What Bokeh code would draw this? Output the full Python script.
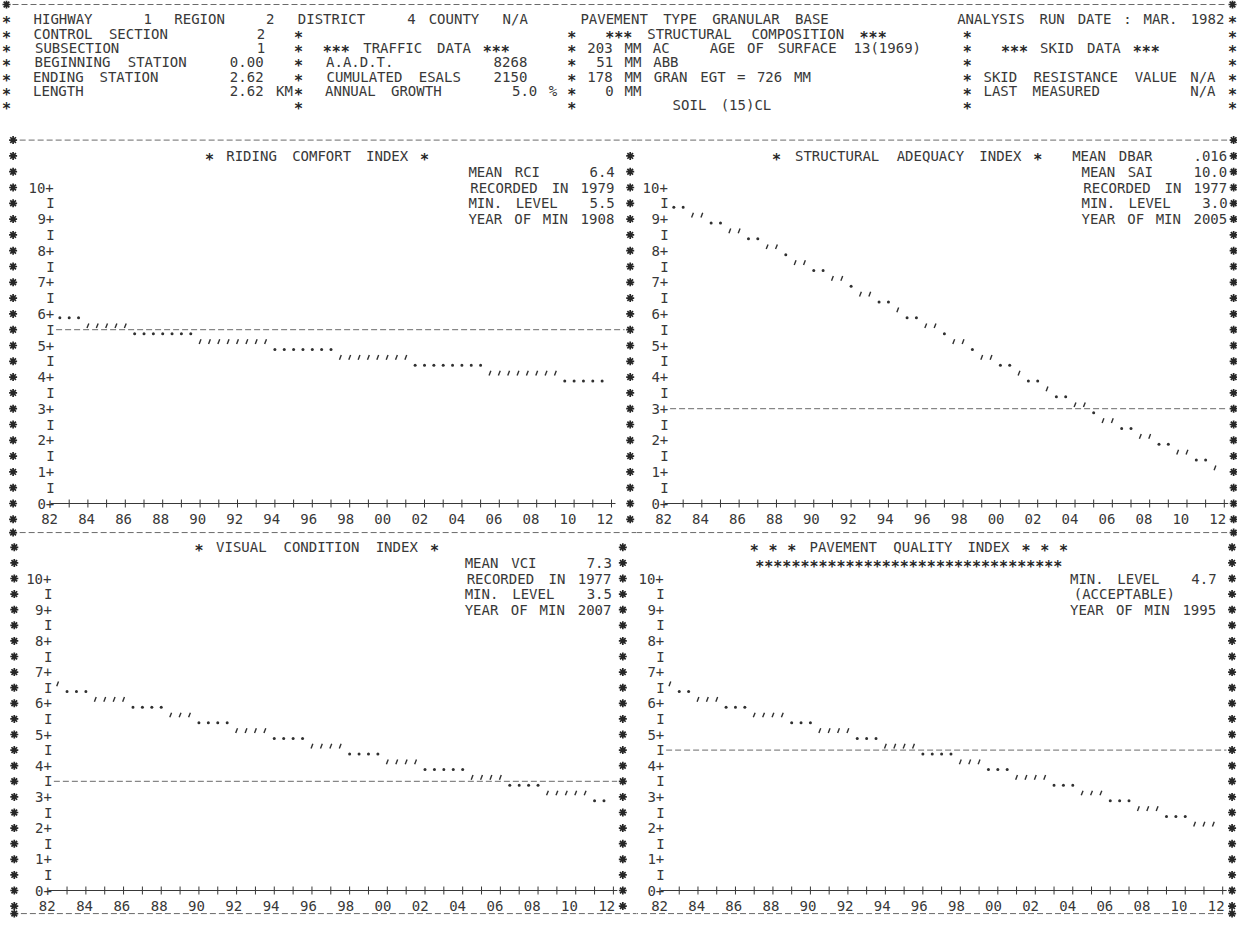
from bokeh.plotting import figure
from bokeh.models import Range1d, ColumnDataSource
from bokeh.layouts import column, row
from bokeh.embed import file_html
from bokeh.resources import INLINE
from bokeh.core.properties import value

FONT = "DejaVu Sans Mono"
INK = "#383838"
STAR_INK = "#262626"
DASH_INK = "#6a6a6a"
TXT_SIZE = "14px"
STAR_SIZE = "15px"
DASH = "6 3"

# ---------------- data ----------------
half_years = [1982.5, 1983.0, 1983.5, 1984.0, 1984.5, 1985.0, 1985.5, 1986.0, 1986.5, 1987.0,
              1987.5, 1988.0, 1988.5, 1989.0, 1989.5, 1990.0, 1990.5, 1991.0, 1991.5, 1992.0,
              1992.5, 1993.0, 1993.5, 1994.0, 1994.5, 1995.0, 1995.5, 1996.0, 1996.5, 1997.0,
              1997.5, 1998.0, 1998.5, 1999.0, 1999.5, 2000.0, 2000.5, 2001.0, 2001.5, 2002.0,
              2002.5, 2003.0, 2003.5, 2004.0, 2004.5, 2005.0, 2005.5, 2006.0, 2006.5, 2007.0,
              2007.5, 2008.0, 2008.5, 2009.0, 2009.5, 2010.0, 2010.5, 2011.0, 2011.5]

rci_values = [5.875, 5.875, 5.875,
              5.625, 5.625, 5.625, 5.625, 5.625,
              5.375, 5.375, 5.375, 5.375, 5.375, 5.375, 5.375,
              5.125, 5.125, 5.125, 5.125, 5.125, 5.125, 5.125, 5.125,
              4.875, 4.875, 4.875, 4.875, 4.875, 4.875, 4.875,
              4.625, 4.625, 4.625, 4.625, 4.625, 4.625, 4.625, 4.625,
              4.375, 4.375, 4.375, 4.375, 4.375, 4.375, 4.375, 4.375,
              4.125, 4.125, 4.125, 4.125, 4.125, 4.125, 4.125, 4.125,
              3.875, 3.875, 3.875, 3.875, 3.875]

sai_values = [9.375, 9.375, 9.125, 9.125, 8.875, 8.875, 8.625, 8.625, 8.375, 8.375,
              8.125, 8.125, 7.875, 7.625, 7.625, 7.375, 7.375, 7.125, 7.125, 6.875,
              6.625, 6.625, 6.375, 6.375, 6.125, 5.875, 5.875, 5.625, 5.625, 5.375,
              5.125, 5.125, 4.875, 4.625, 4.625, 4.375, 4.375, 4.125, 3.875, 3.875,
              3.625, 3.375, 3.375, 3.125, 3.125, 2.875, 2.625, 2.625, 2.375, 2.375,
              2.125, 2.125, 1.875, 1.875, 1.625, 1.625, 1.375, 1.375, 1.125]

vci_values = [6.625, 6.375, 6.375, 6.375,
              6.125, 6.125, 6.125, 6.125, 5.875, 5.875, 5.875, 5.875,
              5.625, 5.625, 5.625, 5.375, 5.375, 5.375, 5.375,
              5.125, 5.125, 5.125, 5.125, 4.875, 4.875, 4.875, 4.875,
              4.625, 4.625, 4.625, 4.625, 4.375, 4.375, 4.375, 4.375,
              4.125, 4.125, 4.125, 4.125, 3.875, 3.875, 3.875, 3.875, 3.875,
              3.625, 3.625, 3.625, 3.625, 3.375, 3.375, 3.375, 3.375,
              3.125, 3.125, 3.125, 3.125, 3.125, 2.875, 2.875]

pqi_values = [6.625, 6.375, 6.375,
              6.125, 6.125, 6.125, 5.875, 5.875, 5.875,
              5.625, 5.625, 5.625, 5.625, 5.375, 5.375, 5.375,
              5.125, 5.125, 5.125, 5.125, 4.875, 4.875, 4.875,
              4.625, 4.625, 4.625, 4.625, 4.375, 4.375, 4.375, 4.375,
              4.125, 4.125, 4.125, 3.875, 3.875, 3.875,
              3.625, 3.625, 3.625, 3.625, 3.375, 3.375, 3.375,
              3.125, 3.125, 3.125, 2.875, 2.875, 2.875,
              2.625, 2.625, 2.625, 2.375, 2.375, 2.375,
              2.125, 2.125, 2.125]

rci_min_level = 5.5
sai_min_level = 3.0
vci_min_level = 3.5
pqi_min_level = 4.7

label_years = [1982, 1984, 1986, 1988, 1990, 1992, 1994, 1996, 1998, 2000, 2002, 2004, 2006, 2008, 2010, 2012]
year_labels = ["82", "84", "86", "88", "90", "92", "94", "96", "98", "00", "02", "04", "06", "08", "10", "12"]
y_ticks = [0, 0.5, 1, 1.5, 2, 2.5, 3, 3.5, 4, 4.5, 5, 5.5, 6, 6.5, 7, 7.5, 8, 8.5, 9, 9.5, 10]
y_tick_labels = ["0+", "I", "1+", "I", "2+", "I", "3+", "I", "4+", "I", "5+", "I", "6+", "I",
                 "7+", "I", "8+", "I", "9+", "I", "10+"]

rci_texts = [(11, 17, "* RIDING COMFORT INDEX *"),
             (10.5, 45, "MEAN RCI     6.4"),
             (10, 45, "RECORDED IN 1979"),
             (9.5, 45, "MIN. LEVEL   5.5"),
             (9, 45, "YEAR OF MIN 1908")]
sai_texts = [(11, 12, "* STRUCTURAL ADEQUACY INDEX *"),
             (11, 44, "MEAN DBAR    .016"),
             (10.5, 45, "MEAN SAI    10.0"),
             (10, 45, "RECORDED IN 1977"),
             (9.5, 45, "MIN. LEVEL   3.0"),
             (9, 45, "YEAR OF MIN 2005")]
vci_texts = [(11, 16, "* VISUAL CONDITION INDEX *"),
             (10.5, 44.5, "MEAN VCI     7.3"),
             (10, 44.5, "RECORDED IN 1977"),
             (9.5, 44.5, "MIN. LEVEL   3.5"),
             (9, 44.5, "YEAR OF MIN 2007")]
pqi_texts = [(11, 10, "* * * PAVEMENT QUALITY INDEX * * *"),
             (10.5, 10, "**********************************"),
             (10, 44, "MIN. LEVEL   4.7"),
             (9.5, 44, "(ACCEPTABLE)"),
             (9, 44, "YEAR OF MIN 1995")]

header_rows = [
    [(0, "*"), (3, "HIGHWAY"), (15, "1"), (18, "REGION"), (28, "2"), (31, "DISTRICT"), (43, "4"),
     (45, "COUNTY"), (53, "N/A"), (61, "PAVEMENT TYPE GRANULAR BASE"),
     (101, "ANALYSIS RUN DATE : MAR. 1982"), (131, "*")],
    [(0, "*"), (3, "CONTROL SECTION"), (27, "2"), (31, "*"), (60, "*"),
     (64, "*** STRUCTURAL COMPOSITION ***"), (102, "*"), (131, "*")],
    [(0, "*"), (3, "SUBSECTION"), (27, "1"), (31, "*"), (34, "*** TRAFFIC DATA ***"), (60, "*"),
     (62, "203 MM AC"), (75, "AGE OF SURFACE 13(1969)"), (102, "*"), (106, "*** SKID DATA ***"), (131, "*")],
    [(0, "*"), (3, "BEGINNING STATION"), (24, "0.00"), (31, "*"), (34, "A.A.D.T."), (52, "8268"),
     (60, "*"), (63, "51 MM ABB"), (102, "*"), (131, "*")],
    [(0, "*"), (3, "ENDING STATION"), (24, "2.62"), (31, "*"), (34, "CUMULATED ESALS"), (52, "2150"),
     (60, "*"), (62, "178 MM GRAN"), (74, "EGT = 726 MM"), (102, "*"),
     (104, "SKID RESISTANCE VALUE"), (126, "N/A"), (131, "*")],
    [(0, "*"), (3, "LENGTH"), (24, "2.62 KM"), (31, "*"), (34, "ANNUAL GROWTH"), (54, "5.0 %"),
     (60, "*"), (64, "0 MM"), (102, "*"), (104, "LAST MEASURED"), (126, "N/A"), (131, "*")],
    [(0, "*"), (31, "*"), (60, "*"), (71, "SOIL (15)CL"), (102, "*"), (131, "*")],
]
header_row_y = [18.3, 33.3, 47.7, 61.7, 76.0, 90.0, 104.0]

PAGE_W, PAGE_H = 1237, 918
HDR_H, TOP_B = 128, 537
SPLIT_X = 636


# ---------------- helpers ----------------
def tokens(col, text):
    out = []
    i, n = 0, len(text)
    while i < n:
        if text[i] == " ":
            i += 1
            continue
        j = i
        while j < n and text[j] != " ":
            j += 1
        out.append((col + i + (j - i - 1) / 2.0, text[i:j]))
        i = j
    return out


class TextBag:
    def __init__(self):
        self.norm = dict(x=[], y=[], t=[])
        self.star = dict(x=[], y=[], t=[])
        self.border = dict(x=[], y=[])

    def add(self, x, y, t):
        d = self.star if set(t) == {"*"} else self.norm
        d["x"].append(x)
        d["y"].append(y)
        d["t"].append(t)

    def add_border(self, x, y):
        self.border["x"].append(x)
        self.border["y"].append(y)

    def draw(self, p):
        p.text(x="x", y="y", text="t", source=ColumnDataSource(self.norm),
               text_font=value(FONT), text_font_size=value(TXT_SIZE), text_color=INK,
               text_align="center", text_baseline="middle")
        p.text(x="x", y="y", text="t", source=ColumnDataSource(self.star),
               text_font=value(FONT), text_font_size=value(STAR_SIZE), text_color=STAR_INK,
               text_font_style="bold", text_align="center", text_baseline="middle", y_offset=4)
        if self.border["x"]:
            p.scatter(x="x", y="y", source=ColumnDataSource(self.border), marker="asterisk",
                      size=8, line_color=STAR_INK, line_width=1.7)


def base_fig(w, h, xr, yr):
    p = figure(width=w, height=h, x_range=xr, y_range=yr, output_backend="svg",
               toolbar_location=None, x_axis_location=None, y_axis_location=None,
               min_border=0, min_border_left=0, min_border_right=0,
               min_border_top=0, min_border_bottom=0)
    p.grid.visible = False
    p.outline_line_color = None
    p.background_fill_color = "white"
    p.border_fill_color = "white"
    return p


# ---------------- header ----------------
hdr = base_fig(PAGE_W, HDR_H, Range1d(0, PAGE_W), Range1d(HDR_H, 0))
hb = TextBag()


def hx(c):
    return min(6.0 + 9.42 * c, 1232.0)


for yy, items in zip(header_row_y, header_rows):
    for col, txt in items:
        for c, tok in tokens(col, txt):
            hb.add(hx(c), yy, tok)
hdr.line(x=[12, 1226], y=[4, 4], line_color=DASH_INK, line_dash=DASH, line_width=1)
hb.add_border(hx(0), 4)
hb.add_border(hx(131), 4)
hb.draw(hdr)


# ---------------- panels ----------------
def panel(vals, level, texts, g):
    pxyr = 2.0 * g["pitch"]
    xr = Range1d(1982 + (g["left"] - g["x0"]) / pxyr, 1982 + (g["right"] - g["x0"]) / pxyr)
    yr = Range1d((g["y0"] - g["bottom"]) / g["unit"], (g["y0"] - g["top"]) / g["unit"])
    p = base_fig(g["right"] - g["left"], g["bottom"] - g["top"], xr, yr)
    tb = TextBag()

    def cx(c):
        return 1982 + c / 2.0

    # dividers (dashed rows)
    for r in g["dividers"]:
        p.line(x=[cx(g["dash_from"]), cx(g["dash_to"])], y=[r, r],
               line_color=DASH_INK, line_dash=DASH, line_width=1)
    # border asterisks
    for col, rows in g["stars"]:
        for r in rows:
            tb.add_border(cx(col), r)
    # y labels
    for t, lab in zip(y_ticks, y_tick_labels):
        for c, tok in tokens(-(len(lab) - 1), lab):
            tb.add(cx(c), t, tok)
    # x axis row
    p.line(x=[label_years[0], label_years[-1]], y=[0, 0], line_color=INK, line_width=1)
    tick_years = list(range(label_years[0] + 1, label_years[-1] + 1))
    p.scatter(x=tick_years, y=[0] * len(tick_years), marker="cross", size=8,
              line_color=INK, line_width=1)
    # year labels: the printer sets them on a slightly tighter pitch than the ticks
    span = label_years[-1] - label_years[0]
    for yv, lab in zip(label_years, year_labels):
        tb.add(yv - 0.05 - 0.3 * (yv - label_years[0]) / span, -0.5, lab)
    # minimum level line at printer resolution
    lvl_row = round(level * 2) / 2.0
    p.line(x=[cx(0.6), cx(g["lvl_to"])], y=[lvl_row, lvl_row],
           line_color=DASH_INK, line_dash=DASH, line_width=1)
    # panel texts
    for r, col, txt in texts:
        for c, tok in tokens(col, txt):
            tb.add(cx(c), r, tok)
    # series marks: apostrophe in upper half of a print cell, dot in lower half
    xs = half_years[:len(vals)]
    ax = [x for x, v in zip(xs, vals) if (v * 4) % 2 < 1]
    ay = [v for v in vals if (v * 4) % 2 < 1]
    dx = [x for x, v in zip(xs, vals) if (v * 4) % 2 >= 1]
    dy = [v for v in vals if (v * 4) % 2 >= 1]
    p.scatter(x=ax, y=ay, marker="dash", angle=1.2, size=5, line_color="#303030", line_width=1.4)
    p.scatter(x=dx, y=dy, marker="circle", size=3, fill_color="#303030", line_color=None)
    tb.draw(p)
    return p


top_rows = [11, 10.5, 10, 9.5, 9, 8.5, 8, 7.5, 7, 6.5, 6, 5.5, 5, 4.5, 4, 3.5, 3, 2.5, 2, 1.5, 1, 0.5, 0, -0.5]
MID_DIV = -0.92
BOT_DIV = -0.74

g_tl = dict(left=0, right=SPLIT_X, top=HDR_H, bottom=TOP_B, x0=50.0, pitch=9.35, y0=503.0, unit=31.6,
            dividers=[11.5, MID_DIV], dash_from=-3.3, dash_to=64.0, lvl_to=61.4,
            stars=[(-4, [11.5] + top_rows + [MID_DIV]), (62, top_rows)])
g_tr = dict(left=SPLIT_X, right=PAGE_W, top=HDR_H, bottom=TOP_B, x0=664.0, pitch=9.33, y0=503.0, unit=31.6,
            dividers=[11.5, MID_DIV], dash_from=-4.0, dash_to=60.3, lvl_to=60.4,
            stars=[(61, [11.5] + top_rows + [MID_DIV])])
g_bl = dict(left=0, right=SPLIT_X, top=TOP_B, bottom=PAGE_H, x0=47.7, pitch=9.42, y0=890.0, unit=31.2,
            dividers=[BOT_DIV], dash_from=-2.9, dash_to=64.0, lvl_to=60.4,
            stars=[(-3.6, top_rows + [BOT_DIV]), (61, top_rows)])
g_br = dict(left=SPLIT_X, right=PAGE_W, top=TOP_B, bottom=PAGE_H, x0=660.0, pitch=9.37, y0=890.0, unit=31.2,
            dividers=[BOT_DIV], dash_from=-4.0, dash_to=60.3, lvl_to=60.4,
            stars=[(61, top_rows + [BOT_DIV])])

p_rci = panel(rci_values, rci_min_level, rci_texts, g_tl)
p_sai = panel(sai_values, sai_min_level, sai_texts, g_tr)
p_vci = panel(vci_values, vci_min_level, vci_texts, g_bl)
p_pqi = panel(pqi_values, pqi_min_level, pqi_texts, g_br)

layout = column(hdr, row(p_rci, p_sai, spacing=0), row(p_vci, p_pqi, spacing=0), spacing=0)

with open("out.html", "w") as f:
    f.write(file_html(layout, INLINE, "Pavement performance printout"))
